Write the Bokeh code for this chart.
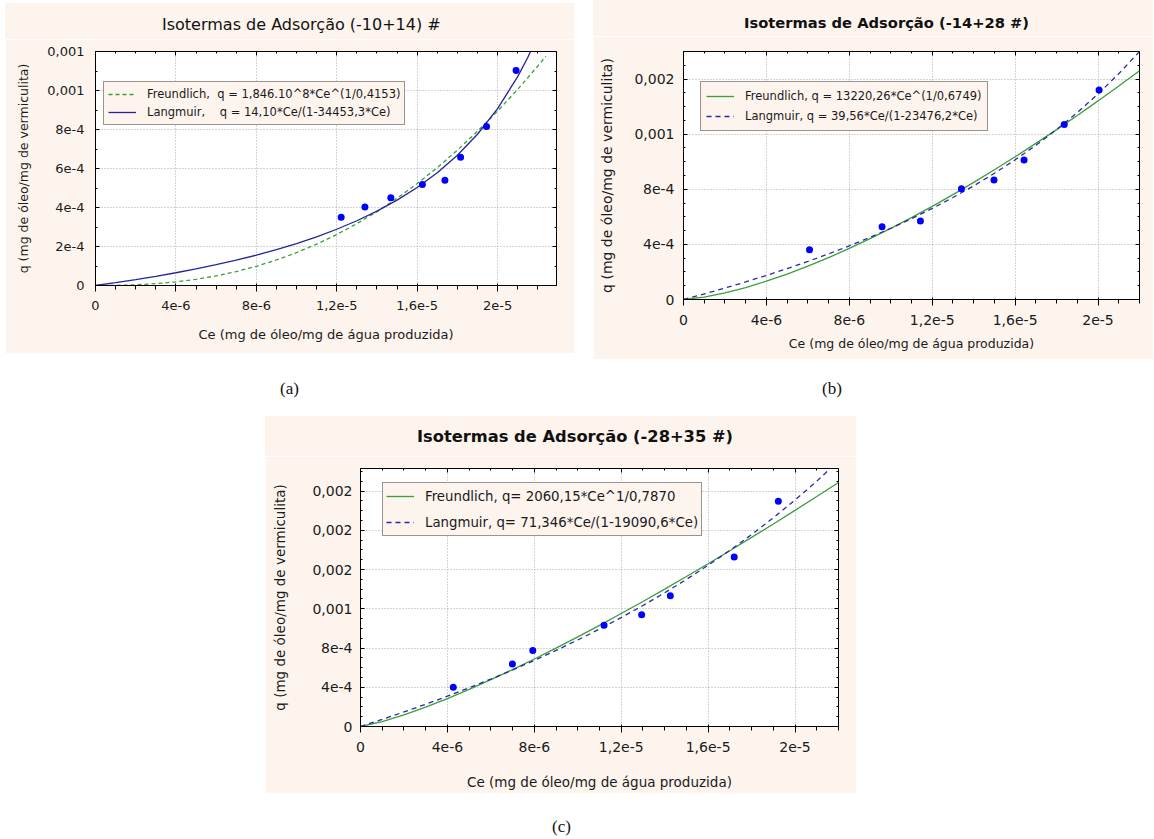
from bokeh.plotting import figure
from bokeh.models import (LinearAxis, FixedTicker, Legend, LegendItem, Range1d, Div, Spacer,
                          CustomLabelingPolicy)
from bokeh.layouts import row, column
from bokeh.embed import file_html
from bokeh.resources import INLINE

FONT = "DejaVu Sans"
PANEL_BG = "#FDF4EE"
GREEN = "#3A9E3A"
NAVY = "#2A2AA6"
DOT = "#0000FF"

# ---------------- data ----------------
# (a) -10+14 #
a_ce = [12.22e-6, 13.40e-6, 14.69e-6, 16.26e-6, 17.38e-6, 18.16e-6, 19.45e-6, 20.92e-6]
a_q = [3.50e-4, 4.02e-4, 4.50e-4, 5.18e-4, 5.40e-4, 6.58e-4, 8.15e-4, 11.03e-4]
a_freu_ce = [0.0, 1e-6, 2e-6, 3e-6, 4e-6, 5e-6, 6e-6, 7e-6, 8e-6, 9e-6, 10e-6, 11e-6, 12e-6,
             13e-6, 14e-6, 15e-6, 16e-6, 17e-6, 18e-6, 19e-6, 20e-6, 21e-6, 22e-6, 22.4e-6]
a_freu_q = [0.0, 6.59e-7, 3.497e-6, 9.284e-6, 1.856e-5, 3.176e-5, 4.927e-5, 7.141e-5, 9.851e-5,
            1.308e-4, 1.6855e-4, 2.121e-4, 2.615e-4, 3.169e-4, 3.790e-4, 4.474e-4, 5.226e-4,
            6.047e-4, 6.941e-4, 7.908e-4, 8.947e-4, 1.0063e-3, 1.1255e-3, 1.1755e-3]
a_lang_ce = [0.0, 1e-6, 2e-6, 3e-6, 4e-6, 5e-6, 6e-6, 7e-6, 8e-6, 9e-6, 10e-6, 11e-6, 12e-6,
             13e-6, 14e-6, 15e-6, 16e-6, 17e-6, 18e-6, 19e-6, 20e-6, 21e-6, 21.5e-6, 22e-6]
a_lang_q = [0.0, 1.460e-5, 3.029e-5, 4.718e-5, 6.541e-5, 8.517e-5, 1.0665e-4, 1.3007e-4,
            1.5572e-4, 1.8393e-4, 2.1511e-4, 2.4975e-4, 2.8846e-4, 3.3200e-4, 3.8134e-4,
            4.3771e-4, 5.0273e-4, 5.7858e-4, 6.6818e-4, 7.7565e-4, 9.0695e-4, 1.0710e-3,
            1.1693e-3, 1.2817e-3]

# (b) -14+28 #
b_ce = [6.08e-6, 9.58e-6, 11.43e-6, 13.41e-6, 14.98e-6, 16.43e-6, 18.37e-6, 20.05e-6]
b_q = [3.61e-4, 5.28e-4, 5.69e-4, 8.04e-4, 8.67e-4, 10.13e-4, 12.71e-4, 15.21e-4]
bc_curve_ce = [0.0, 1e-6, 2e-6, 3e-6, 4e-6, 5e-6, 6e-6, 7e-6, 8e-6, 9e-6, 10e-6, 11e-6, 12e-6,
               13e-6, 14e-6, 15e-6, 16e-6, 17e-6, 18e-6, 19e-6, 20e-6, 21e-6, 22e-6]
b_freu_q = [0.0, 1.702e-5, 4.754e-5, 8.670e-5, 1.3278e-4, 1.8481e-4, 2.4215e-4, 3.0425e-4,
            3.708e-4, 4.4155e-4, 5.162e-4, 5.945e-4, 6.762e-4, 7.613e-4, 8.498e-4, 9.413e-4,
            1.0357e-3, 1.1331e-3, 1.2332e-3, 1.3359e-3, 1.4414e-3, 1.5495e-3, 1.6600e-3]
b_lang_q = [0.0, 4.051e-5, 8.302e-5, 1.2767e-4, 1.7464e-4, 2.2411e-4, 2.7628e-4, 3.3137e-4,
            3.8966e-4, 4.5142e-4, 5.1696e-4, 5.8666e-4, 6.6091e-4, 7.4017e-4, 8.2499e-4,
            9.1594e-4, 1.0137e-3, 1.1192e-3, 1.2332e-3, 1.3569e-3, 1.4915e-3, 1.6386e-3,
            1.8000e-3]

# (c) -28+35 #
c_ce = [4.27e-6, 6.99e-6, 7.93e-6, 11.21e-6, 12.94e-6, 14.26e-6, 17.20e-6, 19.23e-6]
c_q = [3.99e-4, 6.36e-4, 7.74e-4, 10.33e-4, 11.38e-4, 13.33e-4, 17.28e-4, 22.95e-4]
c_freu_q = [0.0, 4.897e-5, 1.1815e-4, 1.9778e-4, 2.8507e-4, 3.7851e-4, 4.7721e-4, 5.8045e-4,
            6.878e-4, 7.988e-4, 9.132e-4, 1.0308e-3, 1.1515e-3, 1.2747e-3, 1.4007e-3,
            1.5290e-3, 1.6594e-3, 1.7922e-3, 1.9274e-3, 2.0642e-3, 2.2034e-3, 2.3442e-3,
            2.4869e-3]
c_lang_q = [0.0, 7.2735e-5, 1.4836e-4, 2.2704e-4, 3.0898e-4, 3.9437e-4, 4.8345e-4, 5.7645e-4,
            6.7365e-4, 7.7533e-4, 8.8180e-4, 9.9342e-4, 1.1106e-3, 1.2337e-3, 1.3632e-3,
            1.4996e-3, 1.6436e-3, 1.7956e-3, 1.9566e-3, 2.1271e-3, 2.3083e-3, 2.5009e-3,
            2.7062e-3]

# ticks and labels
x_ticks = [0.0, 4e-6, 8e-6, 1.2e-5, 1.6e-5, 2e-5]
x_tick_labels = ["0", "4e-6", "8e-6", "1,2e-5", "1,6e-5", "2e-5"]
x_minor = [0.0, 1e-6, 2e-6, 3e-6, 4e-6, 5e-6, 6e-6, 7e-6, 8e-6, 9e-6, 10e-6, 11e-6, 12e-6,
           13e-6, 14e-6, 15e-6, 16e-6, 17e-6, 18e-6, 19e-6, 20e-6, 21e-6, 22e-6, 23e-6]
a_y_ticks = [0.0, 2e-4, 4e-4, 6e-4, 8e-4, 1e-3, 1.2e-3]
a_y_labels = ["0", "2e-4", "4e-4", "6e-4", "8e-4", "0,001", "0,001"]
b_y_ticks = [0.0, 4e-4, 8e-4, 1.2e-3, 1.6e-3]
b_y_labels = ["0", "4e-4", "8e-4", "0,001", "0,002"]
c_y_ticks = [0.0, 4e-4, 8e-4, 1.2e-3, 1.6e-3, 2e-3, 2.4e-3]
c_y_labels = ["0", "4e-4", "8e-4", "0,001", "0,002", "0,002", "0,002"]
y_minor = [0.0, 1e-4, 2e-4, 3e-4, 4e-4, 5e-4, 6e-4, 7e-4, 8e-4, 9e-4, 10e-4, 11e-4, 12e-4,
           13e-4, 14e-4, 15e-4, 16e-4, 17e-4, 18e-4, 19e-4, 20e-4, 21e-4, 22e-4, 23e-4,
           24e-4, 25e-4, 26e-4]

titles = ["Isotermas de Adsorção (-10+14) #", "Isotermas de Adsorção (-14+28 #)",
          "Isotermas de Adsorção (-28+35 #)"]
legend_a = ["Freundlich,\u00a0\u00a0q = 1,846.10^8*Ce^(1/0,4153)",
            "Langmuir,\u00a0\u00a0\u00a0\u00a0q = 14,10*Ce/(1-34453,3*Ce)"]
legend_b = ["Freundlich, q = 13220,26*Ce^(1/0,6749)",
            "Langmuir, q = 39,56*Ce/(1-23476,2*Ce)"]
legend_c = ["Freundlich, q= 2060,15*Ce^1/0,7870",
            "Langmuir, q= 71,346*Ce/(1-19090,6*Ce)"]
x_title = "Ce (mg de óleo/mg de água produzida)"
y_title = "q (mg de óleo/mg de vermiculita)"
captions = ["(a)", "(b)", "(c)"]

HIDE_LABELS = CustomLabelingPolicy(code="""
const all = Array.from(indices)
for (const i of all) { indices.unset(i) }
return indices
""")


def make_panel(x_end, y_end, y_ticks, y_labels, fw, fh, borders, fonts, stand):
    l, r, t, b = borders
    p = figure(frame_width=fw, frame_height=fh, min_border_left=l, min_border_right=r,
               min_border_top=t, min_border_bottom=b, output_backend="svg",
               toolbar_location=None, x_range=Range1d(0, x_end), y_range=Range1d(0, y_end),
               background_fill_color="white", border_fill_color=PANEL_BG,
               outline_line_color="black", outline_line_width=1)
    p.margin = (0, 0, 0, 0)
    tick_font, xlab_font, ylab_font = fonts
    xstd, xlstd, ystd, ylstd = stand
    xt = FixedTicker(ticks=x_ticks, minor_ticks=x_minor)
    yt = FixedTicker(ticks=y_ticks, minor_ticks=y_minor)
    for ax, tk, labs in ((p.xaxis[0], xt, x_tick_labels), (p.yaxis[0], yt, y_labels)):
        ax.ticker = tk
        ax.major_label_overrides = dict(zip(tk.ticks, labs))
        ax.major_label_text_font = FONT
        ax.major_label_text_font_size = tick_font
        ax.major_label_text_color = "#1a1a1a"
        ax.axis_label_text_font = FONT
        ax.axis_label_text_font_style = "normal"
        ax.axis_label_text_color = "#1a1a1a"
    p.xaxis[0].axis_label = x_title
    p.yaxis[0].axis_label = y_title
    p.xaxis[0].axis_label_text_font_size = xlab_font
    p.yaxis[0].axis_label_text_font_size = ylab_font
    p.xaxis[0].major_label_standoff = xstd
    p.xaxis[0].axis_label_standoff = xlstd
    p.yaxis[0].major_label_standoff = ystd
    p.yaxis[0].axis_label_standoff = ylstd
    top = LinearAxis(ticker=xt)
    right = LinearAxis(ticker=yt)
    for ax in (top, right):
        ax.major_label_policy = HIDE_LABELS
        ax.major_label_text_font_size = "1px"
        ax.major_label_standoff = 0
    p.add_layout(top, "above")
    p.add_layout(right, "right")
    for ax in (p.xaxis[0], p.yaxis[0], top, right):
        ax.axis_line_color = None
        ax.major_tick_in = 4
        ax.major_tick_out = 0
        ax.minor_tick_in = 2
        ax.minor_tick_out = 0
        ax.major_tick_line_color = "black"
        ax.minor_tick_line_color = "black"
    p.xgrid.ticker = xt
    p.ygrid.ticker = yt
    for g in (p.xgrid, p.ygrid):
        g.grid_line_color = "#a8a8a8"
        g.grid_line_dash = "1 2"
        g.grid_line_width = 1
    return p


def add_legend(p, items, labels, loc, font, padding, spacing, lh):
    leg = Legend(items=[LegendItem(label=lab, renderers=[r]) for lab, r in zip(labels, items)],
                 location=loc, margin=0, padding=padding, spacing=spacing,
                 label_height=lh, glyph_height=lh, glyph_width=28, label_standoff=11,
                 label_text_font=FONT, label_text_font_size=font, label_text_color="#1a1a1a",
                 border_line_color="#333333", border_line_width=1,
                 background_fill_color=PANEL_BG, background_fill_alpha=1.0)
    p.add_layout(leg, "center")


def text_div(text, width, height, pad_left, pad_top, font, size, weight, bg, lh=20):
    html = ('<div style="padding-left:%dpx;padding-top:%dpx;font-family:%s;font-size:%s;'
            'font-weight:%s;line-height:%dpx;color:#111;white-space:nowrap">%s</div>'
            % (pad_left, pad_top, font, size, weight, lh, text))
    styles = {"background-color": bg} if bg else {}
    return Div(text=html, width=width, height=height, margin=(0, 0, 0, 0), styles=styles)


def spacer(w, h):
    return Spacer(width=w, height=h, margin=(0, 0, 0, 0))


# ---- panel (a)
pa = make_panel(2.293e-5, 1.2e-3, a_y_ticks, a_y_labels, 461, 234, (90, 18, 12, 68),
                ("13px", "13px", "12.5px"), (9, 14, 11, 13))
fa = pa.line(a_freu_ce, a_freu_q, line_color=GREEN, line_width=1.3, line_dash="4 3")
la = pa.line(a_lang_ce, a_lang_q, line_color="#24249A", line_width=1.3)
pa.scatter(a_ce, a_q, size=7, color=DOT, line_color=None)
add_legend(pa, [fa, la], legend_a, (8, 160), "11.5px", 4, 2, 16)
ta = text_div(titles[0], 569, 36, 157, 12, "'DejaVu Sans'", "16px", "normal", PANEL_BG)

# ---- panel (b)
pb = make_panel(2.2e-5, 1.8e-3, b_y_ticks, b_y_labels, 456, 248, (90, 14, 15, 60),
                ("14px", "12.5px", "14px"), (9, 8, 9, 16))
fb = pb.line(bc_curve_ce, b_freu_q, line_color=GREEN, line_width=1.3)
lb = pb.line(bc_curve_ce, b_lang_q, line_color=NAVY, line_width=1.3, line_dash="5 4")
pb.scatter(b_ce, b_q, size=7, color=DOT, line_color=None)
add_legend(pb, [fb, lb], legend_b, (17, 168), "11.5px", 5, 2, 18)
tb = text_div(titles[1], 560, 36, 151, 13, "'DejaVu Sans'", "14.7px", "bold", PANEL_BG)

# ---- panel (c)
pc = make_panel(2.2e-5, 2.63e-3, c_y_ticks, c_y_labels, 478, 258, (95, 18, 12, 67),
                ("14px", "13.5px", "13.5px"), (9, 19, 8, 21))
fc = pc.line(bc_curve_ce, c_freu_q, line_color=GREEN, line_width=1.3)
lc = pc.line(bc_curve_ce, c_lang_q, line_color=NAVY, line_width=1.3, line_dash="5 4")
pc.scatter(c_ce, c_q, size=7, color=DOT, line_color=None)
add_legend(pc, [fc, lc], legend_c, (22, 190), "13.3px", 3, 6, 20)
tc = text_div(titles[2], 591, 40, 152, 11, "'DejaVu Sans'", "16.3px", "bold", PANEL_BG)

cap_font = "'Liberation Serif', serif"
layout = column(
    row(spacer(5, 10), column(spacer(10, 3), column(ta, pa)), spacer(19, 10), column(tb, pb)),
    row(text_div(captions[0], 560, 57, 280, 20, cap_font, "17px", "normal", None),
        text_div(captions[1], 590, 57, 262, 20, cap_font, "17px", "normal", None)),
    row(spacer(265, 10), column(tc, pc)),
    row(text_div(captions[2], 1150, 45, 552, 24, cap_font, "17px", "normal", None)),
)

open("out.html", "w").write(file_html(layout, INLINE))
